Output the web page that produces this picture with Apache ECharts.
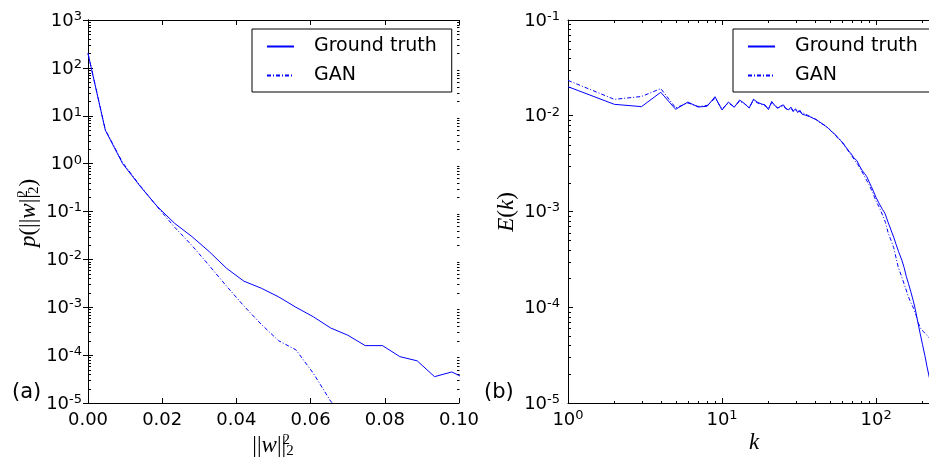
<!DOCTYPE html>
<html><head><meta charset="utf-8">
<script src="https://cdn.jsdelivr.net/npm/echarts@6/dist/echarts.min.js"></script>
<style>html,body{margin:0;padding:0;background:#fff}#c{width:929px;height:459px}</style>
</head><body><div id="c"></div>
<script>
// ---------- Panel (a): p(||w||_2^2) ----------
const aX      = [0, 0.00467, 0.00934, 0.01401, 0.01868, 0.02335, 0.02802, 0.03269, 0.03736, 0.04203, 0.0467, 0.05137, 0.05604, 0.06071, 0.06538, 0.07005, 0.07472, 0.07939, 0.08406, 0.08873, 0.0934, 0.09807, 0.10274];
const aTruth  = [200, 5.0, 1.0, 0.34, 0.127, 0.0566, 0.0299, 0.0145, 0.0065, 0.0035, 0.0025, 0.00165, 0.00100, 0.000635, 0.00037, 0.000260, 0.000158, 0.000158, 0.000093, 0.000076, 0.0000355, 0.0000445, 0.0000295];
const aGAN    = [200, 5.1, 1.05, 0.35, 0.125, 0.047, 0.0195, 0.0074, 0.00275, 0.00106, 0.00044, 0.00020, 0.000129, 0.000042, 0.000011, 0.000004];
const aXTicks = [0, 0.02, 0.04, 0.06, 0.08, 0.10];
// ---------- Panel (b): E(k) ----------
const bKTruth = [1,2,3,4,5,6,7,8,9,10,11,12,13,14,15,16,17,18,19,20,21,22,23,24,25,26,27,28,29,30,31,32,33,34,35,36,37,38,39,40,41,42,43,44,45,46,47,48,49,50,51,52,53,54,55,56,57,58,59,60,61,62,63,64,65,66,67,68,69,70,71,72,75,78,81,84,87,90,93,96,100,105,110,114,120,125,130,135,140,147,152,157,162,168,174,179,185,193,200,208,214,221,230,240,256];
const bTruth  = [0.0201,0.01316,0.01245,0.01758,0.01167,0.0139,0.01233,0.01256,0.0158,0.01148,0.0139,0.01225,0.0146,0.0134,0.01205,0.0149,0.0138,0.0133,0.0130,0.0116,0.0141,0.0128,0.0120,0.0126,0.0130,0.0119,0.0115,0.0123,0.0112,0.0118,0.0108,0.0114,0.0104,0.0109,0.0101,0.0104,0.0098,0.0100,0.0094,0.0096,
  0.0091,0.0092,0.0086,0.0088,0.0082,0.0083,0.0078,0.0080,0.0074,0.0075,0.0069,0.0071,0.0066,0.0067,0.0062,0.0063,0.0058,0.0060,0.0055,0.0057,0.0052,0.0053,0.0048,0.0050,0.0045,0.0046,0.0042,0.0044,0.0040,0.0041,0.0037,0.0038,
  0.00340,0.0030,0.0027,0.00250,0.00231,0.00205,0.00183,0.00163,0.00140,0.00120,0.00105,0.00096,0.00076,0.00064,0.00054,0.00045,0.00038,0.00031,0.00026,0.00021,0.000178,0.000145,0.000118,0.0000975,0.000075,0.0000535,0.000041,0.0000305,0.000024,0.0000188,0.0000135,0.0000095,0.0000050];
const bKGAN   = [1,2,3,4,5,6,7,8,9,10,11,12,13,14,15,16,17,18,19,20,21,22,23,24,25,26,27,28,29,30,32,34,36,38,40,42,44,46,48,50,52,54,56,58,60,64,68,72,76,80,85,90,95,100,105,110,115,120,125,130,139,147,155,162,168,175,182,188,195,203,210,218,230,256];
const bGAN    = [0.0234,0.01483,0.0159,0.0192,0.0121,0.0136,0.0125,0.0128,0.0152,0.0118,0.0136,0.0124,0.0142,0.0133,0.0122,0.0145,0.0136,0.0131,0.0127,0.0119,0.0137,0.0126,0.0121,0.0124,0.0127,0.0118,0.0117,0.0120,0.0110,0.0115,0.0110,0.0106,0.0101,0.0097,0.0093,0.0088,0.0083,0.0080,0.0076,0.0072,0.0067,0.0064,0.0059,0.0057,0.0053,0.0046,0.0040,0.0035,0.0031,0.0027,0.00225,0.00190,0.00158,0.00128,0.00110,0.00092,0.00077,0.00059,0.00050,0.00042,0.000265,0.000205,0.000160,0.000129,0.000112,0.0000975,0.000082,0.000068,0.000060,0.0000556,0.0000525,0.0000493,0.0000450,0.0000380];
const legendNames = ['Ground truth', 'GAN'];
const panelLabels = ['(a)', '(b)'];

const BLUE = '#0000ff';
const FONT = 'DejaVu Sans';
const MATH = 'Liberation Serif';

// minor tick positions on log axes (2..9 x 10^e)
function minors(eMin, eMax, maxV) {
  const out = [];
  for (let e = eMin; e <= eMax; e++) for (let m = 2; m <= 9; m++) {
    const v = m * Math.pow(10, e); if (v < maxV) out.push(v);
  }
  return out;
}
const aYMin = minors(-5, 2, 1e3);
const bYMin = minors(-5, -2, 1e-1);
const bXMin = minors(0, 2, 256);

const aMinorData = [];
aYMin.forEach(v => { aMinorData.push([0, v, 0]); aMinorData.push([0.1, v, 1]); });
const bMinorData = [];
bYMin.forEach(v => { bMinorData.push([1, v, 0]); });
bXMin.forEach(v => { bMinorData.push([v, 1e-5, 2]); bMinorData.push([v, 1e-1, 3]); });

function tickRender(params, api) {
  const p = api.coord([api.value(0), api.value(1)]);
  const side = api.value(2), L = 2.5;
  const x = Math.round(p[0]) + 0.5, y = Math.round(p[1]) + 0.5;
  let x2 = x, y2 = y;
  if (side === 0) x2 += L; else if (side === 1) x2 -= L; else if (side === 2) y2 -= L; else y2 += L;
  return { type: 'line', shape: { x1: x, y1: y, x2: x2, y2: y2 }, style: { stroke: '#000', lineWidth: 1 } };
}

const logFmt = v => {
  const e = Math.log10(v);
  if (Math.abs(e - Math.round(e)) > 1e-6) return '';
  return '{b|10}{s|' + Math.round(e) + '}';
};
const logRich = {
  b: { fontFamily: FONT, fontSize: 18, color: '#000', lineHeight: 20, verticalAlign: 'bottom' },
  s: { fontFamily: FONT, fontSize: 13, color: '#000', lineHeight: 13, verticalAlign: 'top' }
};
const axLine = { show: true, lineStyle: { color: '#000', width: 1 } };
const majTick = { show: true, inside: true, length: 5, lineStyle: { color: '#000' } };

const gridA = { left: 88, top: 20, width: 371, height: 383, outerBoundsMode: 'none', containLabel: false };
const gridB = { left: 568, top: 20, width: 371, height: 383, outerBoundsMode: 'none', containLabel: false };

const legendBase = {
  orient: 'vertical', top: 29, itemWidth: 27, itemHeight: 14, itemGap: 10,
  borderColor: '#000', borderWidth: 1, backgroundColor: '#fff',
  itemStyle: { opacity: 0 },
  textStyle: { fontFamily: FONT, fontSize: 19, color: '#000', padding: [0, 0, 0, 15] },
  data: legendNames, selectedMode: false
};

const mathRich = {
  n: { fontFamily: MATH, fontSize: 23, color: '#000', lineHeight: 26 },
  i: { fontFamily: MATH, fontSize: 23, fontStyle: 'italic', color: '#000', lineHeight: 26 },
  sp: { fontFamily: MATH, fontSize: 15, color: '#000', lineHeight: 15, verticalAlign: 'top', width: 0.01 },
  sb: { fontFamily: MATH, fontSize: 15, color: '#000', lineHeight: 15, verticalAlign: 'bottom' }
};

const option = {
  animation: false,
  backgroundColor: '#fff',
  grid: [gridA, gridB],
  legend: [Object.assign({ left: 252, padding: [8, 15, 7, 14] }, legendBase),
           Object.assign({ left: 733, padding: [8, 22, 7, 14] }, legendBase)],
  xAxis: [
    { type: 'value', gridIndex: 0, min: 0, max: 0.1, interval: 0.02, position: 'bottom',
      axisLine: axLine, axisTick: majTick, splitLine: { show: false },
      axisLabel: { fontFamily: FONT, fontSize: 18, color: '#000', margin: 8, formatter: v => v.toFixed(2) } },
    { type: 'value', gridIndex: 0, min: 0, max: 0.1, interval: 0.02, position: 'top',
      axisLine: axLine, axisTick: majTick, splitLine: { show: false }, axisLabel: { show: false } },
    { type: 'log', logBase: 10, gridIndex: 1, min: 1, max: 256, splitNumber: 2, position: 'bottom',
      axisLine: axLine, axisTick: majTick, splitLine: { show: false },
      axisLabel: { margin: 6, formatter: logFmt, rich: logRich, showMaxLabel: false } },
    { type: 'log', logBase: 10, gridIndex: 1, min: 1, max: 256, splitNumber: 2, position: 'top',
      axisLine: axLine, axisTick: majTick, splitLine: { show: false }, axisLabel: { show: false } }
  ],
  yAxis: [
    { type: 'log', logBase: 10, gridIndex: 0, min: 1e-5, max: 1e3, splitNumber: 8, position: 'left',
      axisLine: axLine, axisTick: majTick, splitLine: { show: false },
      axisLabel: { margin: 6, formatter: logFmt, rich: logRich } },
    { type: 'log', logBase: 10, gridIndex: 0, min: 1e-5, max: 1e3, splitNumber: 8, position: 'right',
      axisLine: axLine, axisTick: majTick, splitLine: { show: false }, axisLabel: { show: false } },
    { type: 'log', logBase: 10, gridIndex: 1, min: 1e-5, max: 1e-1, splitNumber: 4, position: 'left',
      axisLine: axLine, axisTick: majTick, splitLine: { show: false },
      axisLabel: { margin: 8, formatter: logFmt, rich: logRich } },
    { type: 'log', logBase: 10, gridIndex: 1, min: 1e-5, max: 1e-1, splitNumber: 4, position: 'right',
      axisLine: axLine, axisTick: majTick, splitLine: { show: false }, axisLabel: { show: false } }
  ],
  series: [
    { name: legendNames[0], type: 'line', xAxisIndex: 0, yAxisIndex: 0, symbol: 'none',
      data: aX.map((x, i) => [x, aTruth[i]]), lineStyle: { color: BLUE, width: 1 }, itemStyle: { color: BLUE } },
    { name: legendNames[1], type: 'line', xAxisIndex: 0, yAxisIndex: 0, symbol: 'none',
      data: aGAN.map((y, i) => [aX[i], y]), lineStyle: { color: BLUE, width: 1, type: [4, 2, 1, 2] }, itemStyle: { color: BLUE } },
    { name: legendNames[0], type: 'line', xAxisIndex: 2, yAxisIndex: 2, symbol: 'none',
      data: bKTruth.map((k, i) => [k, bTruth[i]]), lineStyle: { color: BLUE, width: 1 }, itemStyle: { color: BLUE } },
    { name: legendNames[1], type: 'line', xAxisIndex: 2, yAxisIndex: 2, symbol: 'none',
      data: bKGAN.map((k, i) => [k, bGAN[i]]), lineStyle: { color: BLUE, width: 1, type: [4, 2, 1, 2] }, itemStyle: { color: BLUE } },
    { type: 'custom', xAxisIndex: 0, yAxisIndex: 0, clip: false, silent: true, encode: { x: 0, y: 1 },
      data: aMinorData, renderItem: tickRender },
    { type: 'custom', xAxisIndex: 2, yAxisIndex: 2, clip: false, silent: true, encode: { x: 0, y: 1 },
      data: bMinorData, renderItem: tickRender }
  ],
  graphic: [
    { type: 'text', left: 12, top: 382, style: { text: panelLabels[0], fontFamily: FONT, fontSize: 21, fill: '#000' } },
    { type: 'text', left: 484, top: 382, style: { text: panelLabels[1], fontFamily: FONT, fontSize: 21, fill: '#000' } },
    { type: 'text', x: 273, y: 446, style: { text: '{n|||}{i|w}{n|||}{sp|2}{sb|2}', rich: mathRich, align: 'center', verticalAlign: 'middle' } },
    { type: 'text', x: 754, y: 443, style: { text: '{i|k}', rich: mathRich, align: 'center', verticalAlign: 'middle' } },
    { type: 'text', x: 29, y: 213, rotation: Math.PI / 2, style: { text: '{i|p}{n|(||}{i|w}{n|||}{sp|2}{sb|2}{n|)}', rich: mathRich, align: 'center', verticalAlign: 'middle' } },
    { type: 'text', x: 507, y: 212, rotation: Math.PI / 2, style: { text: '{i|E}{n|(}{i|k}{n|)}', rich: mathRich, align: 'center', verticalAlign: 'middle' } }
  ]
};
echarts.init(document.getElementById('c')).setOption(option);
</script></body></html>
